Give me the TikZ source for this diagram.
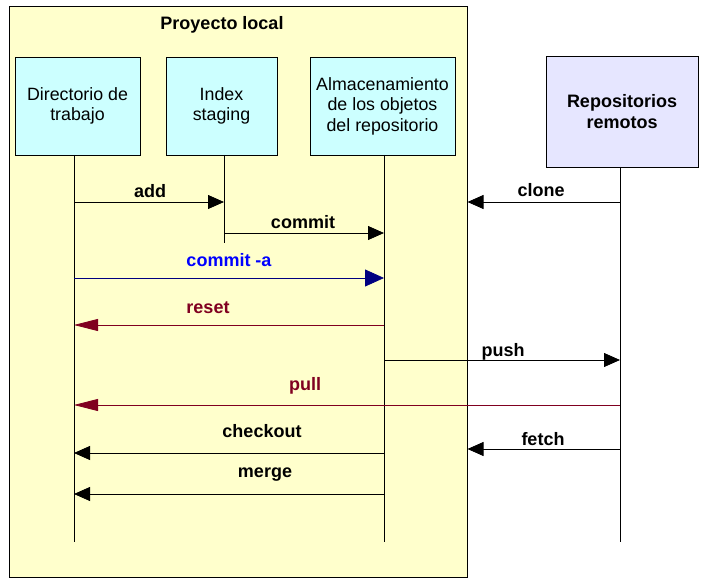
\documentclass[tikz,border=0pt]{standalone}
\usepackage{fontspec}
\setmainfont{Liberation Sans}
\usetikzlibrary{arrows.meta}
\definecolor{amarillo}{HTML}{FFFFCC}
\definecolor{cian}{HTML}{CCFFFF}
\definecolor{lavanda}{HTML}{E6E6FF}
\definecolor{granate}{HTML}{800020}
\definecolor{marino}{HTML}{000080}
\newcommand{\letra}{\fontsize{17.8}{20.5}\selectfont}
\newcommand{\letrab}{\fontsize{18}{20.5}\selectfont\bfseries}
\tikzset{
  caja/.style={draw, fill=cian, line width=0.8pt, align=center, inner sep=0pt, font=\letra},
  linea/.style={line width=0.8pt},
  msg/.style={line width=0.8pt, -{Triangle[length=16pt,width=14pt]}},
  etiq/.style={font=\letrab, anchor=base, inner sep=0pt}
}
\begin{document}
\begin{tikzpicture}[x=1pt,y=-1pt]
   \useasboundingbox (0,0) rectangle (709,585);
   \node[draw, fill=amarillo, line width=1pt, inner sep=0pt,
         minimum width=458pt, minimum height=570pt] (local) at (238,292) {};
   \node[etiq] (titulo) at (222,30) {Proyecto local};
   \node[caja, minimum width=125pt, minimum height=98pt] (dir) at (77.5,106) {Directorio de\\trabajo};
   \node[caja, minimum width=111pt, minimum height=98pt] (idx) at (221.5,106) {Index\\staging};
   \node[caja, minimum width=145pt, minimum height=98pt] (alm) at (382.5,106) {Almacenamiento\\de los objetos\\del repositorio};
   \node[caja, fill=lavanda, font=\letrab, minimum width=152pt, minimum height=111pt] (rem) at (622,111.5) {Repositorios\\remotos};
   \coordinate (dirA) at (74,155);  \coordinate (dirB) at (74,542);
   \coordinate (idxA) at (224,155); \coordinate (idxB) at (224,243);
   \coordinate (almA) at (384,155); \coordinate (almB) at (384,542);
   \coordinate (remA) at (620,167); \coordinate (remB) at (620,542);
   \draw[linea] (dirA) -- (dirB);
   \draw[linea] (idxA) -- (idxB);
   \draw[linea] (almA) -- (almB);
   \draw[linea] (remA) -- (remB);
   \draw[msg] (dirA |- 0,202) -- (idxA |- 0,202);
   \draw[msg] (idxA |- 0,233) -- (almA |- 0,233);
   \draw[msg, draw=marino, -{Triangle[length=19pt,width=17pt]}, fill=marino] (dirA |- 0,278) -- (almA |- 0,278);
   \draw[msg, draw=granate, -{Triangle[length=24pt,width=12pt]}, fill=granate] (almA |- 0,325) -- (dirA |- 0,325);
   \draw[msg] (almA |- 0,360) -- (remA |- 0,360);
   \draw[msg, draw=granate, -{Triangle[length=24pt,width=12pt]}, fill=granate] (remA |- 0,405) -- (dirA |- 0,405);
   \draw[msg] (almA |- 0,453) -- (dirA |- 0,453);
   \draw[msg] (almA |- 0,494) -- (dirA |- 0,494);
   \draw[msg] (remA |- 0,202) -- (local.east |- 0,202);
   \draw[msg] (remA |- 0,449) -- (local.east |- 0,449);
   \node[etiq] (tAdd) at (150,198) {add};
   \node[etiq] (tCommit) at (303,229) {commit};
   \node[etiq, text=blue] (tCommitA) at (229,266) {commit -a};
   \node[etiq, text=granate] (tReset) at (208,313) {reset};
   \node[etiq] (tPush) at (503,356) {push};
   \node[etiq, text=granate] (tPull) at (305,390) {pull};
   \node[etiq] (tCheckout) at (262,437) {checkout};
   \node[etiq] (tMerge) at (265,477) {merge};
   \node[etiq] (tClone) at (541,197) {clone};
   \node[etiq] (tFetch) at (543,445) {fetch};
\end{tikzpicture}
\end{document}
